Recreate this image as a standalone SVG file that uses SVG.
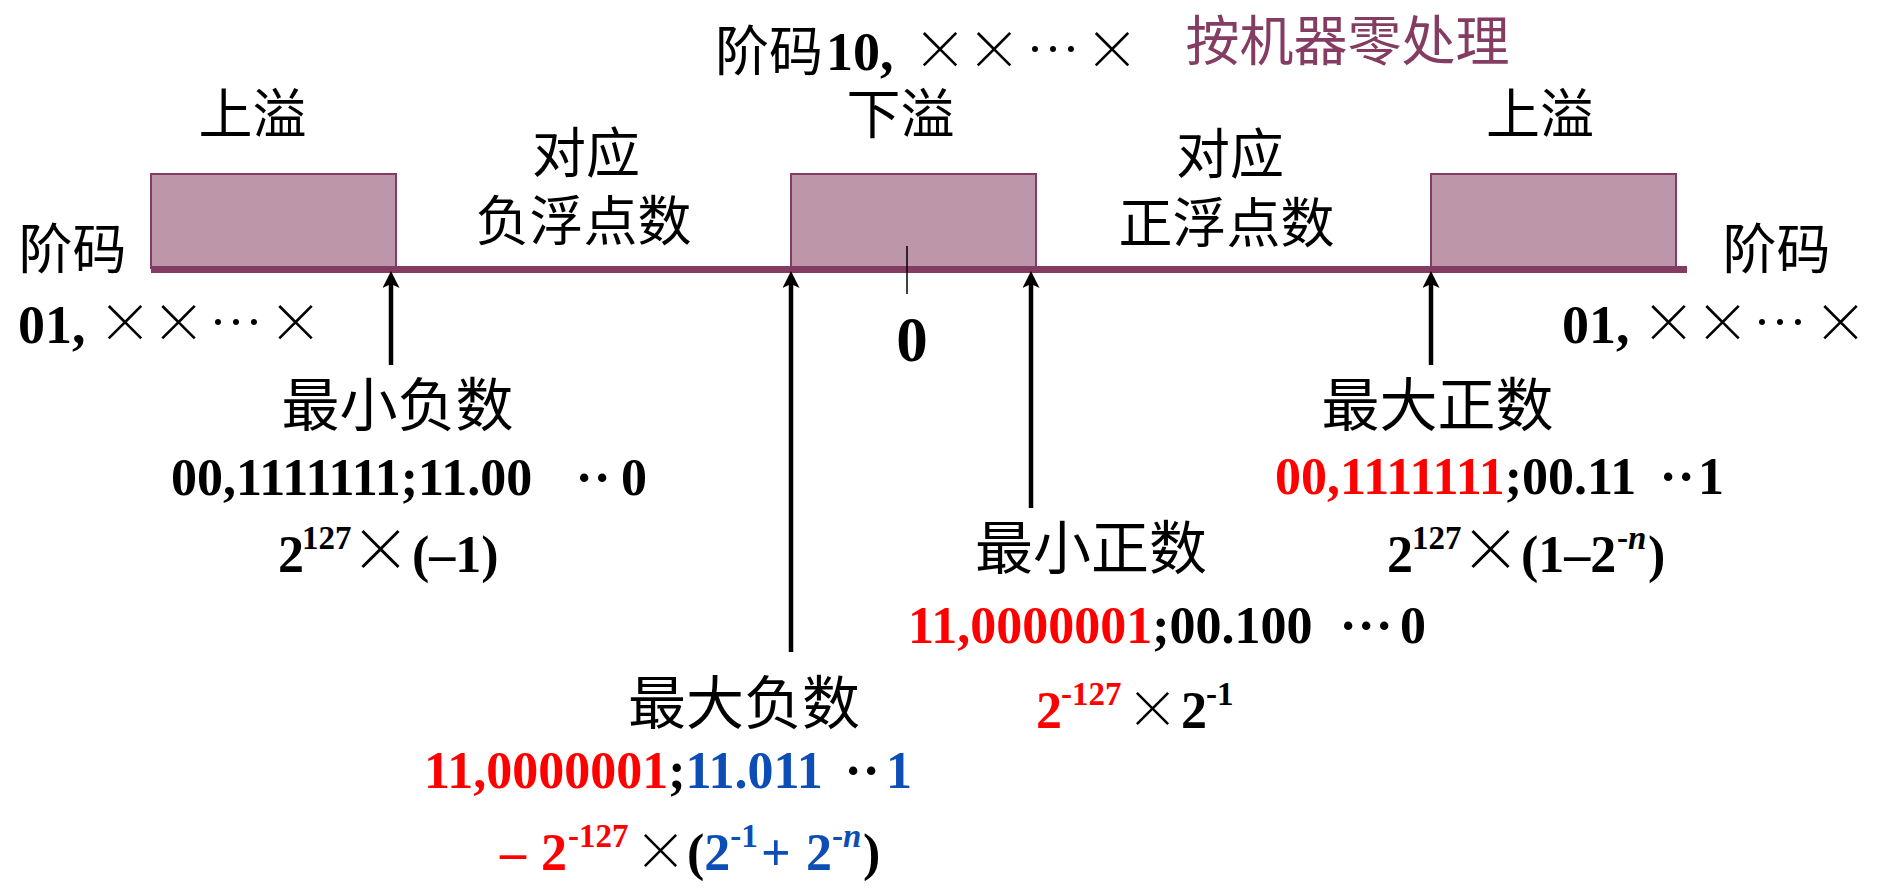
<svg xmlns="http://www.w3.org/2000/svg" width="1896" height="892" viewBox="0 0 1896 892">
<defs>
<style>
.cn{font-family:"Noto Sans CJK SC","Noto Sans CJK TC",sans-serif;font-weight:400;fill:#000}
.cnl{font-family:"Noto Sans CJK SC","Noto Sans CJK TC",sans-serif;font-size:54px;fill:#000;text-anchor:middle}
.cnb{font-family:"Noto Sans CJK SC","Noto Sans CJK TC",sans-serif;font-size:58px;fill:#000;text-anchor:middle}
.num{font-family:"Liberation Serif","Times New Roman",serif;font-weight:700;font-size:52px;fill:#000}
.big{font-size:54px}
.zero{font-size:63px}
.sup{font-size:33px}
.sym{font-family:"Noto Sans CJK SC","Noto Sans CJK TC",sans-serif;font-weight:300;text-anchor:middle;font-feature-settings:"fwid"}
.red{fill:#FF0000}
.blue{fill:#0C4DB6}
.blk{fill:#000}
.mar{fill:#843C62}
.box{fill:#BE96A9;stroke:#843C62;stroke-width:2}
.arr{stroke:#000;stroke-width:4.5;fill:none}
</style>
<marker id="ah" viewBox="0 0 17 17" refX="6" refY="8.5" markerWidth="17" markerHeight="17" markerUnits="userSpaceOnUse" orient="auto">
<path d="M0,0 L17,8.5 L0,17 L4,8.5 Z" fill="#000"/>
</marker>
</defs>
<rect width="1896" height="892" fill="#fff"/>

<g id="axis">
<rect class="box" x="151" y="174" width="245" height="94"/>
<rect class="box" x="791" y="174" width="245" height="94"/>
<rect class="box" x="1431" y="174" width="245" height="94"/>
<rect x="151" y="266" width="1536" height="7" fill="#843C62"/>
<line x1="907" y1="246" x2="907" y2="294" stroke="#000" stroke-width="1.5"/>
</g>

<g id="connectors">
<line class="arr" x1="391" y1="365" x2="391" y2="282" marker-end="url(#ah)"/>
<line class="arr" x1="791" y1="652" x2="791" y2="282" marker-end="url(#ah)"/>
<line class="arr" x1="1031" y1="508" x2="1031" y2="282" marker-end="url(#ah)"/>
<line class="arr" x1="1431" y1="365" x2="1431" y2="282" marker-end="url(#ah)"/>
</g>

<g id="label-zero-handling">
<text class="num big" y="70"><tspan class="cn" x="715" y="71">阶码</tspan><tspan x="826" y="70">10,</tspan><tspan class="sym" x="940">×</tspan><tspan class="sym" x="994">×</tspan><tspan class="sym" x="1053">⋯</tspan><tspan class="sym" x="1112">×</tspan></text>
<text class="cn mar" font-size="54" x="1347.5" y="61" text-anchor="middle">按机器零处理</text>
</g>

<g id="label-overflow-left">
<text class="cnl" x="252.5" y="134">上溢</text>
</g>
<g id="label-underflow">
<text class="cnl" x="900.5" y="134">下溢</text>
</g>
<g id="label-overflow-right">
<text class="cnl" x="1540" y="134">上溢</text>
</g>
<g id="label-negative">
<text class="cnl" x="586" y="173">对应</text>
<text class="cnl" x="583.5" y="241">负浮点数</text>
</g>
<g id="label-positive">
<text class="cnl" x="1230" y="174">对应</text>
<text class="cnl" x="1226.5" y="243">正浮点数</text>
</g>

<g id="label-exp-left">
<text class="cnl" x="72.5" y="269">阶码</text>
<text class="num big" y="343"><tspan x="18">01,</tspan><tspan class="sym" x="125">×</tspan><tspan class="sym" x="178.5">×</tspan><tspan class="sym" x="236">⋯</tspan><tspan class="sym" x="295.5">×</tspan></text>
</g>
<g id="label-exp-right">
<text class="cnl" x="1776.5" y="269">阶码</text>
<text class="num big" y="343"><tspan x="1562">01,</tspan><tspan class="sym" x="1668.5">×</tspan><tspan class="sym" x="1722.5">×</tspan><tspan class="sym" x="1780">⋯</tspan><tspan class="sym" x="1840.5">×</tspan></text>
</g>

<g id="label-zero">
<text class="num zero" x="912" y="361" text-anchor="middle">0</text>
</g>

<g id="node-min-negative">
<text class="cnb" x="397.5" y="426">最小负数</text>
<text class="num" y="495"><tspan x="171">00,1111111;11.00</tspan><tspan x="575.5">·</tspan><tspan x="593.5">·</tspan><tspan x="621">0</tspan></text>
<text class="num" y="572"><tspan x="278">2</tspan><tspan class="sup" x="302" dy="-23">127</tspan><tspan class="sym" font-size="60" x="380.5" dy="23">×</tspan><tspan x="412">(–1)</tspan></text>
</g>

<g id="node-max-negative">
<text class="cnb" x="744" y="724">最大负数</text>
<text class="num" y="788"><tspan class="red" x="424">11,0000001</tspan><tspan>;</tspan><tspan class="blue">11.011</tspan><tspan x="844.5">·</tspan><tspan x="862.5">·</tspan><tspan class="blue" x="886">1</tspan></text>
<text class="num" y="870"><tspan class="red" x="500">–</tspan><tspan class="red" x="541">2</tspan><tspan class="red sup" x="568" dy="-23">-127</tspan><tspan class="sym blk" font-size="52" x="660.5" dy="23">×</tspan><tspan x="687">(</tspan><tspan class="blue">2</tspan><tspan class="blue sup" dy="-23">-1</tspan><tspan class="blue" x="761" dy="23">+</tspan><tspan class="blue" x="806">2</tspan><tspan class="blue sup" dy="-23">-<tspan font-style="italic">n</tspan></tspan><tspan x="863" dy="23">)</tspan></text>
</g>

<g id="node-min-positive">
<text class="cnb" x="1091" y="569">最小正数</text>
<text class="num" y="643"><tspan class="red" x="908">11,0000001</tspan><tspan>;00.100</tspan><tspan x="1339.5">·</tspan><tspan x="1357.5">·</tspan><tspan x="1375.5">·</tspan><tspan x="1400">0</tspan></text>
<text class="num" y="728"><tspan class="red" x="1036">2</tspan><tspan class="red sup" x="1061" dy="-23">-127</tspan><tspan class="sym blk" font-size="52" x="1152.5" dy="23">×</tspan><tspan x="1181">2</tspan><tspan class="sup" x="1206" dy="-23">-1</tspan></text>
</g>

<g id="node-max-positive">
<text class="cnb" x="1437.5" y="426">最大正数</text>
<text class="num" y="494"><tspan class="red" x="1275">00,1111111</tspan><tspan>;00.11</tspan><tspan x="1659.5">·</tspan><tspan x="1677.5">·</tspan><tspan x="1698">1</tspan></text>
<text class="num" y="572"><tspan x="1387">2</tspan><tspan class="sup" x="1412" dy="-23">127</tspan><tspan class="sym" font-size="60" x="1490.5" dy="23">×</tspan><tspan x="1521">(1–2</tspan><tspan class="sup" x="1617" dy="-23">-<tspan font-style="italic">n</tspan></tspan><tspan x="1648" dy="23">)</tspan></text>
</g>
</svg>
